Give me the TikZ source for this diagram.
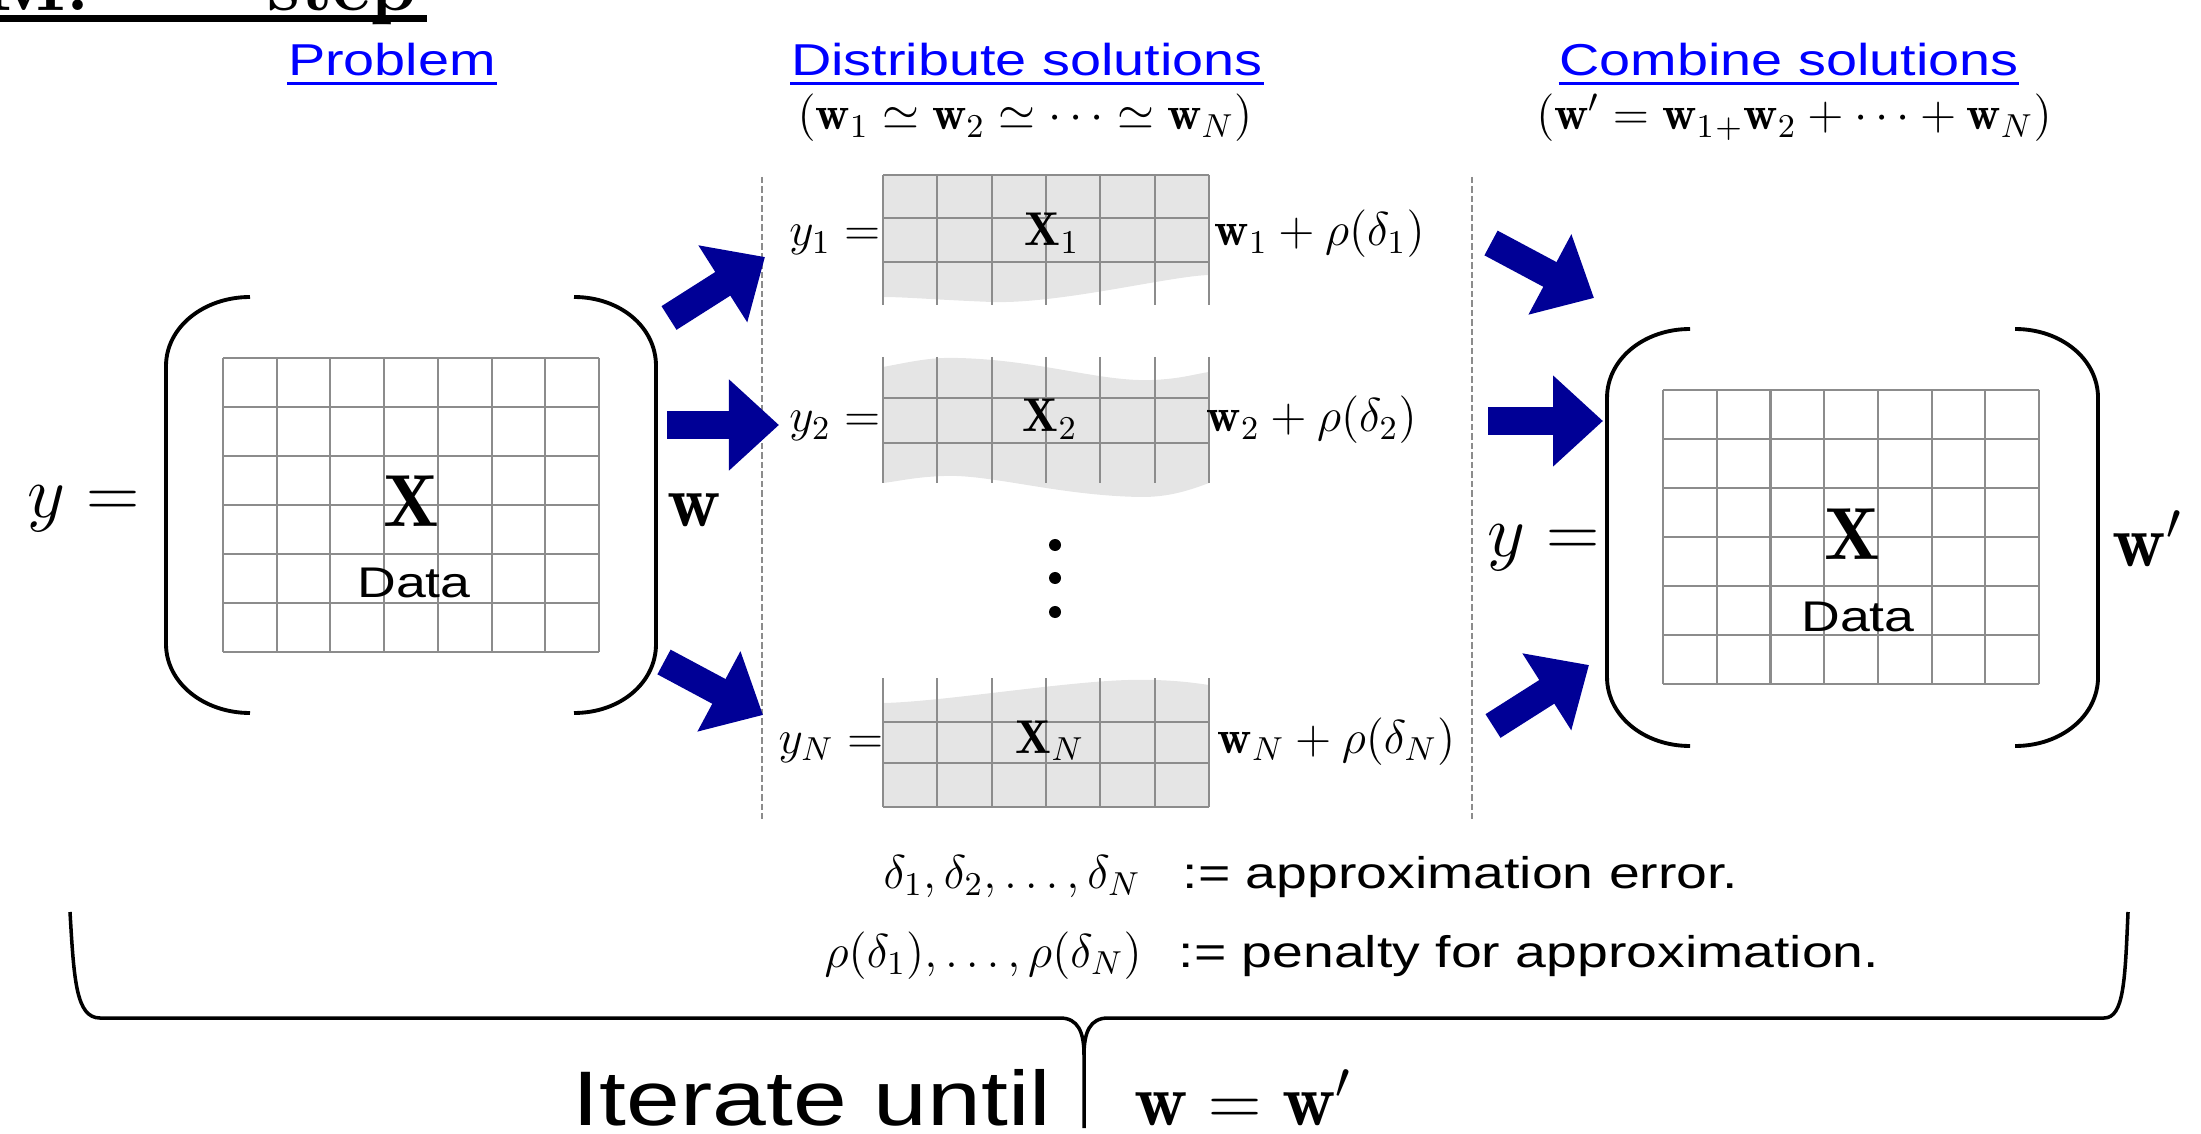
\documentclass[tikz,border=0pt]{standalone}
\usepackage{fix-cm}
\usepackage{fontspec}
\setsansfont{Liberation Sans}[FakeStretch=1.25]
\usepackage{amsmath}
\usepackage{xcolor}
\usepackage{tikz}
\usetikzlibrary{arrows.meta}
\definecolor{linkblue}{RGB}{0,0,255}
\definecolor{arrowblue}{RGB}{0,0,150}

\begin{document}
\begin{tikzpicture}[
    x=0.01cm, y=-0.01cm,
    ttl/.style={font=\bfseries\fontsize{21}{25}\selectfont, inner sep=0pt},
    hdr/.style={font=\sffamily\fontsize{12.7}{15}\selectfont, text=linkblue, inner sep=0pt, anchor=base},
    uline/.style={draw=linkblue, line width=0.85pt},
    mbig/.style={font=\fontsize{21}{25}\selectfont, inner sep=0pt, anchor=base},
    msml/.style={font=\fontsize{13.5}{16}\selectfont, inner sep=0pt, anchor=base},
    lbl/.style={font=\sffamily\fontsize{12.2}{14}\selectfont, inner sep=0pt, anchor=base},
    note/.style={font=\sffamily\fontsize{12.6}{15}\selectfont, inner sep=0pt, anchor=base west},
    iter/.style={font=\sffamily\fontsize{22}{26}\selectfont, inner sep=0pt, anchor=base east},
    cell/.style={draw=black!45, line width=0.6pt},
    part/.style={fill=black!10},
    sep/.style={draw=black!45, line width=0.55pt, dash pattern=on 1.8pt off 0.9pt},
    paren/.style={line width=1.1pt},
    brace/.style={line width=1pt},
    bigarr/.style={draw=arrowblue, line width=2.8mm, -{Triangle[length=5mm, width=8.8mm]}}
  ]
  \useasboundingbox (0,0) rectangle (2201,1134);

  \node[ttl, anchor=base east] (ttlm) at (90,11) {M:};
  \node[ttl, anchor=base west] (ttls) at (267,11) {step};
  \draw[line width=2pt] ([yshift=-2.1pt]ttlm.base west) -- ([xshift=2.8pt, yshift=-2.1pt]ttls.base east);

  \node[hdr] (hprob) at (392,76) {Problem};
  \node[hdr] (hdist) at (1027,76) {Distribute solutions};
  \node[hdr] (hcomb) at (1789,76) {Combine solutions};
  \draw[uline] ([yshift=-2pt]hprob.base west) -- ([yshift=-2pt]hprob.base east);
  \draw[uline] ([yshift=-2pt]hdist.base west) -- ([yshift=-2pt]hdist.base east);
  \draw[uline] ([yshift=-2pt]hcomb.base west) -- ([yshift=-2pt]hcomb.base east);
  \node[msml] (fdist) at (1025,130) {$(\mathbf{w}_1\simeq\mathbf{w}_2\simeq\cdots\simeq\mathbf{w}_N)$};
  \node[msml] (fcomb) at (1794,130) {$(\mathbf{w}'=\mathbf{w}_1{}_{+}\mathbf{w}_2+\cdots+\mathbf{w}_N)$};

  \draw[sep] (762,177) -- (762,820);
  \draw[sep] (1472,177) -- (1472,820);

  \foreach \k in {0,...,7} \draw[cell] (223+\k*53.71,358) -- (223+\k*53.71,652);
  \foreach \k in {0,...,6} \draw[cell] (223,358+\k*49) -- (599,358+\k*49);
  \draw[paren] (250,297) .. controls (204,297) and (166,327) .. (166,366) -- (166,644) .. controls (166,683) and (204,713) .. (250,713);
  \draw[paren] (574,297) .. controls (620,297) and (656,327) .. (656,366) -- (656,644) .. controls (656,683) and (620,713) .. (574,713);
  \node[mbig, anchor=base east] (yl) at (140,518) {$y=$};
  \node[mbig] (xl) at (411,527) {$\mathbf{X}$};
  \node[lbl] (dl) at (414,597) {Data};
  \node[mbig, anchor=base west] (wl) at (667,527) {$\mathbf{w}$};

  \fill[part] (883,175) -- (1209,175) -- (1209,275) .. controls (1170,276) and (1060,304) .. (992,302) .. controls (940,300) and (905,297) .. (883,297) -- cycle;
  \foreach \k in {0,...,6} \draw[cell] (883+\k*54.33,175) -- (883+\k*54.33,305);
  \foreach \yy in {175,218,262} \draw[cell] (883,\yy) -- (1209,\yy);
  \node[msml, anchor=base east] (y1) at (881,246) {$y_1=$};
  \node[msml] (x1) at (1052,246) {$\mathbf{X}_1$};
  \node[msml, anchor=base west] (w1) at (1214,246) {$\mathbf{w}_1+\rho(\delta_1)$};

  \fill[part] (883,367) .. controls (910,362) and (930,357) .. (958,358) .. controls (1040,360) and (1100,382) .. (1152,380) .. controls (1180,379) and (1195,374) .. (1209,372) -- (1209,483) .. controls (1190,490) and (1170,497) .. (1142,497) .. controls (1060,496) and (990,474) .. (944,476) .. controls (915,477) and (900,481) .. (883,483) -- cycle;
  \foreach \k in {0,...,6} \draw[cell] (883+\k*54.33,357) -- (883+\k*54.33,483);
  \foreach \yy in {398,443} \draw[cell] (883,\yy) -- (1209,\yy);
  \node[msml, anchor=base east] (y2) at (881,432) {$y_2=$};
  \node[msml] (x2) at (1050,432) {$\mathbf{X}_2$};
  \node[msml, anchor=base west] (w2) at (1206,432) {$\mathbf{w}_2+\rho(\delta_2)$};

  \foreach \yy in {545,578,612} \fill (1055,\yy) circle[radius=0.06cm];

  \fill[part] (883,703) .. controls (940,702) and (1060,682) .. (1128,680) .. controls (1170,679) and (1195,683) .. (1209,685) -- (1209,807) -- (883,807) -- cycle;
  \foreach \k in {0,...,6} \draw[cell] (883+\k*54.33,678) -- (883+\k*54.33,807);
  \foreach \yy in {722,763,807} \draw[cell] (883,\yy) -- (1209,\yy);
  \node[msml, anchor=base east] (yn) at (884,753) {$y_N=$};
  \node[msml] (xn) at (1050,753) {$\mathbf{X}_N$};
  \node[msml, anchor=base west] (wn) at (1217,753) {$\mathbf{w}_N+\rho(\delta_N)$};

  \foreach \k in {0,...,7} \draw[cell] (1663+\k*53.71,390) -- (1663+\k*53.71,684);
  \foreach \k in {0,...,6} \draw[cell] (1663,390+\k*49) -- (2039,390+\k*49);
  \draw[paren] (1690,329) .. controls (1644,329) and (1607,359) .. (1607,398) -- (1607,677) .. controls (1607,716) and (1644,746) .. (1690,746);
  \draw[paren] (2015,329) .. controls (2061,329) and (2098,359) .. (2098,398) -- (2098,677) .. controls (2098,716) and (2061,746) .. (2015,746);
  \node[mbig, anchor=base east] (yr) at (1600,556) {$y=$};
  \node[mbig] (xr) at (1852,560) {$\mathbf{X}$};
  \node[lbl] (dr) at (1858,631) {Data};
  \node[mbig, anchor=base west] (wr) at (2112,566) {$\mathbf{w}'$};

  \coordinate (ta1) at (669,318); \coordinate (ha1) at (765,257);
  \coordinate (ta2) at (667,425); \coordinate (ha2) at (779,425);
  \coordinate (ta3) at (664,662); \coordinate (ha3) at (763,715);
  \coordinate (tb1) at (1491,243); \coordinate (hb1) at (1594,298);
  \coordinate (tb2) at (1488,421); \coordinate (hb2) at (1603,421);
  \coordinate (tb3) at (1493,726); \coordinate (hb3) at (1589,665);
  \draw[bigarr] (ta1) -- (ha1);
  \draw[bigarr] (ta2) -- (ha2);
  \draw[bigarr] (ta3) -- (ha3);
  \draw[bigarr] (tb1) -- (hb1);
  \draw[bigarr] (tb2) -- (hb2);
  \draw[bigarr] (tb3) -- (hb3);

  \node[msml, anchor=base west] (del) at (883,888) {$\delta_1,\delta_2,\ldots,\delta_N$};
  \node[note] (delt) at (1182,888) {:= approximation error.};
  \node[msml, anchor=base west] (pen) at (824,967) {$\rho(\delta_1),\ldots,\rho(\delta_N)$};
  \node[note] (pent) at (1178,967) {:= penalty for approximation.};

  \draw[brace] (70,912) .. controls (74,980) and (76,1018) .. (100,1018) -- (1060,1018) .. controls (1078,1018) and (1084,1032) .. (1084,1055) -- (1084,1128);
  \draw[brace] (1084,1055) .. controls (1084,1032) and (1090,1018) .. (1108,1018) -- (2104,1018) .. controls (2124,1018) and (2125,980) .. (2128,912);
  \node[iter] (itr) at (1052,1125) {Iterate until};
  \node[mbig, anchor=base west] (conv) at (1134,1125) {$\mathbf{w}=\mathbf{w}'$};
\end{tikzpicture}
\end{document}
